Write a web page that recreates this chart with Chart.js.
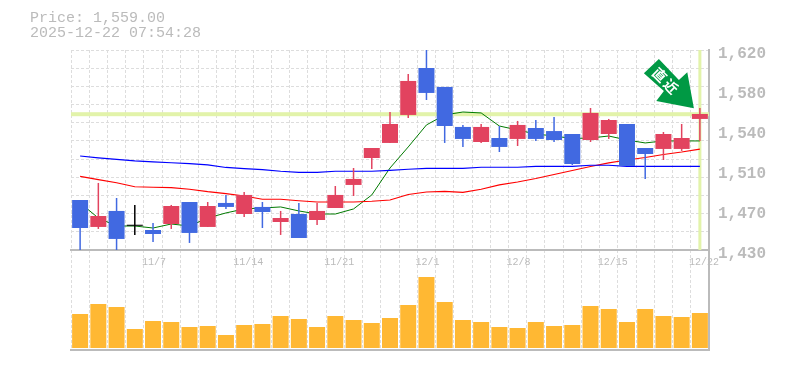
<!DOCTYPE html>
<html>
<head>
<meta charset="utf-8">
<title>Price chart</title>
<script src="https://cdn.jsdelivr.net/npm/chart.js@4"></script>
<style>
body { margin: 0; background: #fff; }
#wrap { position: relative; width: 785px; height: 370px; overflow: hidden; }
canvas { position: absolute; left: 0; top: 0; }
#head { position: absolute; left: 30px; top: 11px; font: 15px/15px "Liberation Mono", monospace; color: #bbb; white-space: pre; }
</style>
</head>
<body>
<div id="wrap">
  <canvas id="volumeChart" width="785" height="370"></canvas>
  <canvas id="priceChart" width="785" height="370"></canvas>
  <div id="head">Price: 1,559.00
2025-12-22 07:54:28</div>
</div>
<script>
const categories = ["10/31","11/4","11/5","11/6","11/7","11/10","11/11","11/12","11/13","11/14","11/17","11/18","11/19","11/20","11/21","11/25","11/26","11/27","11/28","12/1","12/2","12/3","12/4","12/5","12/8","12/9","12/10","12/11","12/12","12/15","12/16","12/17","12/18","12/19","12/22"];
const dateLabels = ["11/7","11/14","11/21","12/1","12/8","12/15","12/22"];

const opens  = [1477.5,1451.9,1467.1,1454,1449,1454.7,1475.6,1451.9,1474.7,1464.2,1470.9,1456.6,1464.2,1458.5,1469.9,1491.8,1517.4,1531.7,1558.3,1602.9,1584.9,1546.9,1532.6,1536.4,1535.5,1545.9,1543,1540.2,1534.5,1540.2,1549.7,1526.9,1526,1526,1554.5];
const highs  = [1477.5,1493.7,1479.4,1472.8,1455.7,1472.8,1475.6,1475.6,1482.3,1485.1,1475.6,1467.1,1474.7,1474.7,1490.8,1507.9,1526.9,1561.1,1597.2,1620,1584.9,1548.8,1549.7,1547.8,1552.6,1553.5,1556.4,1540.2,1564.9,1554.5,1549.7,1526.9,1542.1,1549.7,1564.9];
const lows   = [1430,1450,1430,1444.3,1437.6,1450,1436.7,1451.9,1469,1461.4,1450.9,1444.3,1441.4,1453.8,1469.9,1481.3,1507,1531.7,1555.4,1572.5,1531.7,1527.9,1531.7,1523.1,1528.8,1533.6,1532.6,1510.8,1532.6,1535.5,1509.8,1497.5,1515.5,1524.1,1533.6];
const closes = [1450.9,1462.3,1440.5,1453,1445.2,1471.8,1446.2,1471.8,1470.9,1482.3,1466.1,1460.4,1441.4,1467.1,1482.3,1497.5,1526.9,1549.7,1590.6,1579.2,1547.8,1535.5,1546.9,1527.9,1548.8,1535.5,1534.5,1511.7,1560.2,1553.5,1509.8,1521.2,1540.2,1536.4,1559.2];

const maShort = [1474.7,1460.4,1452.8,1452.8,1450.9,1454.7,1452.8,1460.4,1465.2,1469,1469.9,1470.9,1467.1,1464.2,1464.2,1469,1482.3,1507.9,1527.9,1548.8,1558.3,1561.1,1560.2,1547.8,1544,1540.2,1538.3,1535.9,1536.4,1538.3,1534.5,1531.7,1533.6,1533.6,1533.6];
const maMiddle = [1500,1496.8,1493.9,1490.1,1489.6,1489.2,1487.7,1485.4,1483.5,1481.3,1478.2,1478.2,1476.8,1475.6,1475.6,1475.6,1476.3,1477.5,1482.7,1485.1,1485.6,1484.8,1487.7,1491.8,1494.6,1497.9,1501.7,1505.5,1509.3,1512.7,1515.5,1517.9,1520.7,1523.1,1525.9];
const maLong = [1519.3,1517.6,1516.1,1514.7,1513.7,1512.9,1512.1,1510.8,1508.4,1507.3,1506.4,1504.8,1503.8,1503.8,1504.8,1504.8,1504.8,1505.7,1506.7,1507.6,1507.6,1507.6,1508.6,1508.6,1508.6,1509.5,1509.5,1509.5,1510.5,1510.5,1509.5,1509.5,1509.5,1509.5,1509.5];

const volumes = [34,44,41,19,27,26,21,22,13,23,24,32,29,21,32,28,25,30,43,71,46,28,26,21,20,26,22,23,42,39,26,39,32,31,35];

const currentPrice = 1559;
const priceTicks = [1620,1582,1544,1506,1468,1430];
const priceTickLabels = ["1,620","1,580","1,540","1,510","1,470","1,430"];
const gridValues = [1620,1602.7,1585.5,1568.2,1550.9,1533.6,1516.4,1499.1,1481.8,1464.5,1447.3,1430];

const gridColor = "#ddd";
const axisColor = "#bbb";
const textColor = "#bbb";
const upColor = "#e2435f";
const downColor = "#4169e1";
const markerColor = "#e2f3aa";
const arrowColor = "#009944";

function candleColor(i){
    if(Math.abs(closes[i] - opens[i]) <= 1) return "#000";
    return closes[i] > opens[i] ? upColor : downColor;
}

const candleColors = categories.map((c, i) => candleColor(i));
const bodies = categories.map((c, i) => [opens[i], closes[i]]);
const wicks = categories.map((c, i) => [lows[i], highs[i]]);

function lineSet(data, color, width){
    return { type: "line", data: data, borderColor: color, borderWidth: width, pointRadius: 0, tension: 0, order: 3, yAxisID: "y" };
}

// current price lines go under the candles, the badge goes on top
const markerPlugin = {
    id: "marker",
    beforeDatasetsDraw(chart){
        const { ctx, chartArea, scales } = chart;
        const py = scales.y.getPixelForValue(currentPrice);
        const px = scales.x.getPixelForValue(categories.length - 1);
        ctx.save();
        ctx.fillStyle = markerColor;
        ctx.fillRect(chartArea.left, py - 2, chartArea.right - chartArea.left, 4);
        ctx.fillRect(px - 1.5, chartArea.top, 3, chartArea.bottom - chartArea.top);
        ctx.restore();
    },
    afterDatasetsDraw(chart){
        const { ctx, scales } = chart;
        const tx = scales.x.getPixelForValue(categories.length - 1) - 6;
        const ty = scales.y.getPixelForValue(currentPrice) - 6;
        const outline = [[0,0],[-6.6,-36],[-15,-28.3],[-35,-49.3],[-50,-35],[-30,-17.3],[-37.6,-7.3]];
        ctx.save();
        ctx.translate(tx, ty);
        ctx.fillStyle = arrowColor;
        ctx.beginPath();
        outline.forEach((p, i) => i ? ctx.lineTo(p[0], p[1]) : ctx.moveTo(p[0], p[1]));
        ctx.closePath();
        ctx.fill();
        ctx.translate(-28.5, -27.5);
        ctx.rotate(Math.PI / 4);
        ctx.fillStyle = "#fff";
        ctx.font = 'bold 14px "Noto Sans CJK JP"';
        ctx.textAlign = "center";
        ctx.textBaseline = "middle";
        ctx.fillText("直", -8, 0);
        ctx.fillText("近", 8, 0);
        ctx.restore();
    }
};

new Chart(document.getElementById("volumeChart"), {
    type: "bar",
    data: {
        labels: categories,
        datasets: [{ data: volumes, backgroundColor: "#ffb833", barThickness: 16, inflateAmount: 0, yAxisID: "y" }]
    },
    options: {
        responsive: false,
        animation: false,
        layout: { padding: { left: 71, right: 0, top: 250, bottom: 20 } },
        plugins: { legend: { display: false }, tooltip: { enabled: false } },
        scales: {
            x: {
                offset: true,
                grid: { offset: true, color: gridColor, lineWidth: 1, drawTicks: false },
                border: { display: true, color: axisColor, width: 2, dash: [3, 2] },
                ticks: { display: false },
                afterFit(scale){ scale.height = 0; }
            },
            y: {
                position: "right",
                min: -2,
                max: 98,
                grid: { display: false },
                border: { display: true, color: axisColor, width: 2 },
                ticks: { display: false },
                afterFit(scale){ scale.width = 76; }
            }
        }
    }
});

new Chart(document.getElementById("priceChart"), {
    data: {
        labels: categories,
        datasets: [
            lineSet(maLong, "#0000ff", 1.2),
            lineSet(maMiddle, "#ff0000", 1.2),
            lineSet(maShort, "#007a00", 1),
            { type: "bar", data: wicks, backgroundColor: candleColors, barThickness: 1.5, grouped: false, inflateAmount: 0, order: 2, yAxisID: "y" },
            { type: "bar", data: bodies, backgroundColor: candleColors, barThickness: 16, grouped: false, inflateAmount: 0, order: 1, yAxisID: "y" }
        ]
    },
    plugins: [markerPlugin],
    options: {
        responsive: false,
        animation: false,
        layout: { padding: { left: 71, right: 0, top: 50, bottom: 20 } },
        plugins: { legend: { display: false }, tooltip: { enabled: false } },
        scales: {
            x: {
                offset: true,
                grid: { offset: true, color: gridColor, lineWidth: 1, drawTicks: false },
                border: { display: true, color: axisColor, width: 2, dash: [3, 2] },
                ticks: {
                    autoSkip: false,
                    maxRotation: 0,
                    align: "start",
                    labelOffset: -11,
                    padding: 6,
                    color: textColor,
                    font: { family: "Liberation Mono", size: 10 },
                    callback(value){
                        const label = this.getLabelForValue(value);
                        return dateLabels.includes(label) ? label : "";
                    }
                },
                afterFit(scale){ scale.height = 100; }
            },
            y: {
                position: "right",
                min: 1430,
                max: 1620,
                afterBuildTicks(scale){ scale.ticks = priceTicks.map(v => ({ value: v })); },
                grid: { display: false },
                border: { display: true, color: axisColor, width: 2 },
                ticks: {
                    padding: 1,
                    labelOffset: 4,
                    color: textColor,
                    font: { family: "Liberation Mono", size: 16, weight: "bold" },
                    callback(value, i){ return priceTickLabels[i]; }
                },
                afterFit(scale){ scale.width = 76; }
            },
            yGrid: {
                position: "left",
                min: 1430,
                max: 1620,
                afterBuildTicks(scale){ scale.ticks = gridValues.map(v => ({ value: v })); },
                grid: { color: gridColor, lineWidth: 1, drawTicks: false },
                border: { display: false, dash: [3, 2] },
                ticks: { display: false },
                afterFit(scale){ scale.width = 0; }
            }
        }
    }
});
</script>
</body>
</html>
